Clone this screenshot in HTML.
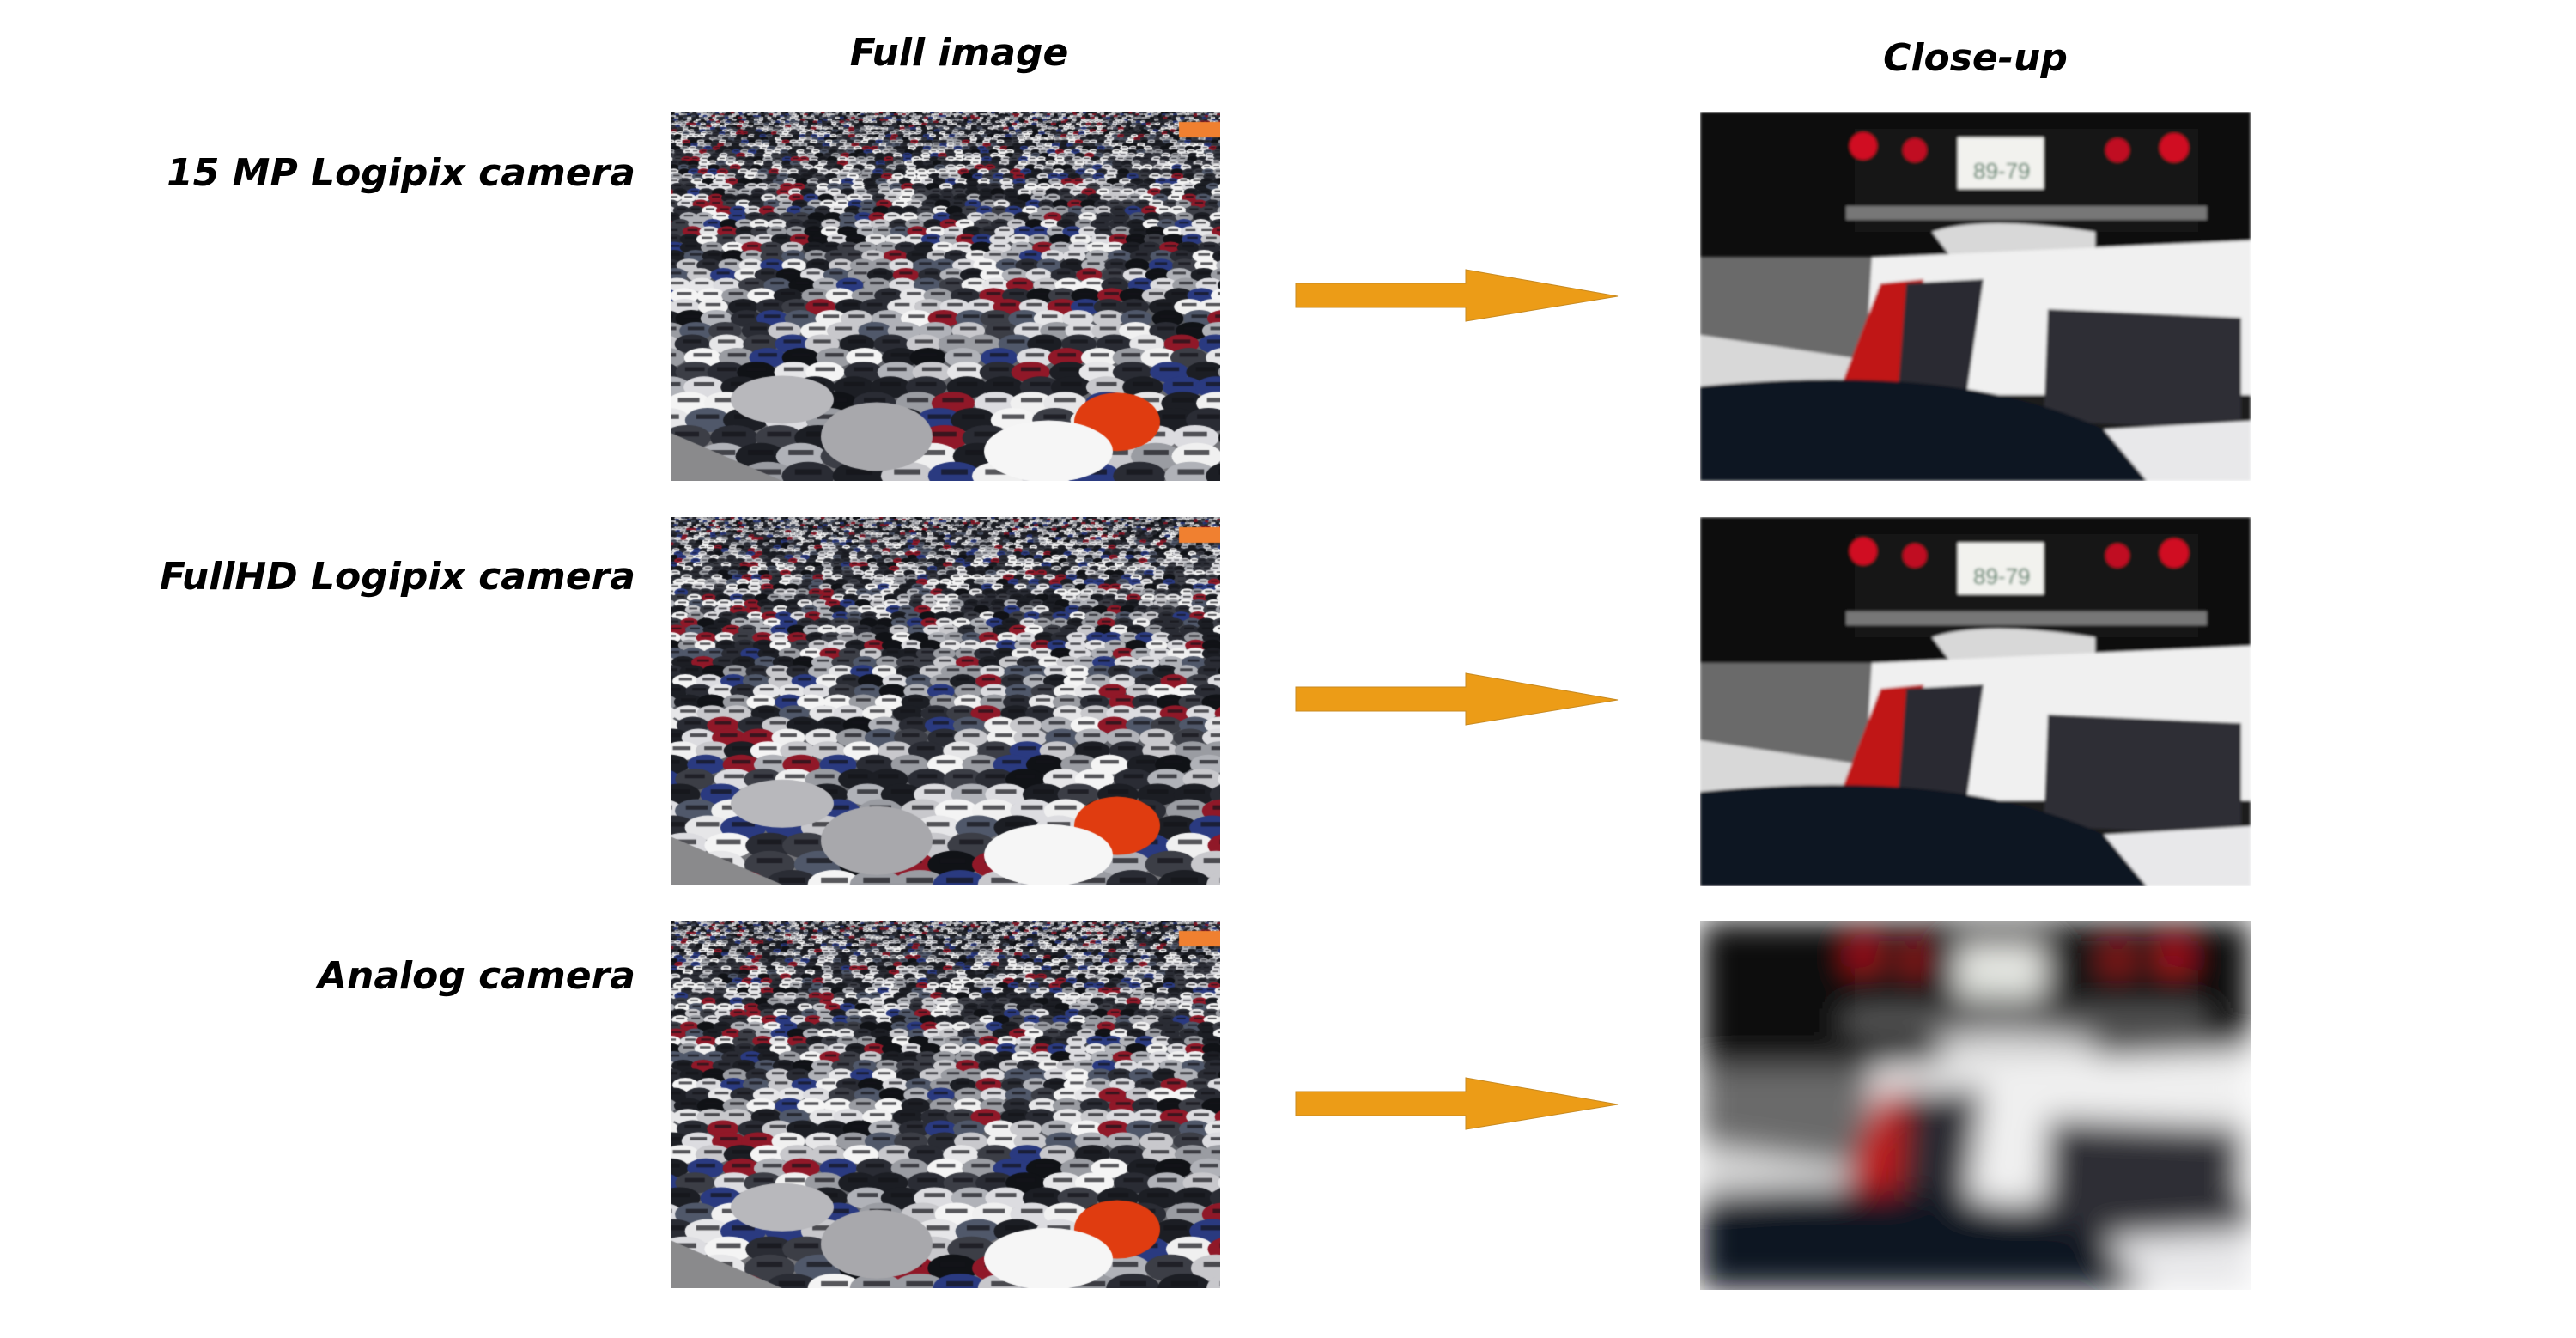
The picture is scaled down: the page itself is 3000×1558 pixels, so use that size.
<!DOCTYPE html>
<html><head><meta charset="utf-8"><style>
html,body{margin:0;padding:0;background:#fff;}
body{width:3000px;height:1558px;position:relative;overflow:hidden;font-family:"DejaVu Sans","Liberation Sans",sans-serif;}
.t{position:absolute;font-weight:bold;font-style:italic;font-size:44px;color:#000;white-space:nowrap;}
.lab{right:2260px;text-align:right;}
canvas,svg.c{position:absolute;}
</style></head><body>
<div class="t" style="left:0;width:2234px;text-align:center;top:36px;">Full image</div>
<div class="t" style="left:1980px;width:641px;text-align:center;top:42px;">Close-up</div>
<div class="t lab" style="top:176px;">15 MP Logipix camera</div>
<div class="t lab" style="top:646px;">FullHD Logipix camera</div>
<div class="t lab" style="top:1111px;">Analog camera</div>

<canvas id="f1" width="640" height="430" style="left:781px;top:130px"></canvas>
<canvas id="f2" width="640" height="428" style="left:781px;top:602px"></canvas>
<canvas id="f3" width="640" height="428" style="left:781px;top:1072px"></canvas>

<svg class="c" style="left:0;top:0" width="3000" height="1558">
<defs>
<filter id="b1"><feGaussianBlur stdDeviation="1.5"/></filter>
<filter id="b2"><feGaussianBlur stdDeviation="18"/></filter>
<clipPath id="cp"><rect x="0" y="0" width="641" height="430"/></clipPath>
<g id="cu">
<rect x="0" y="0" width="641" height="430" fill="#1a1a1c"/>
<rect x="0" y="0" width="641" height="170" fill="#0d0d10"/>
<rect x="180" y="20" width="400" height="120" fill="#141418"/>
<rect x="300" y="30" width="100" height="60" fill="#f2f2ee"/>
<text x="318" y="78" font-family="Liberation Sans" font-size="26" fill="#2a6a4a">89-79</text>
<circle cx="190" cy="40" r="16" fill="#d01020"/><circle cx="250" cy="45" r="14" fill="#c01020"/>
<circle cx="486" cy="45" r="14" fill="#c01020"/><circle cx="552" cy="42" r="17" fill="#d01020"/>
<rect x="170" y="110" width="420" height="16" fill="#777"/>
<polygon points="0,170 210,170 230,330 0,330" fill="#6a6a6a"/>
<polygon points="0,260 200,290 200,330 0,330" fill="#d8d8d8"/>
<path d="M270,140 Q330,120 460,140 L460,175 L300,180 Z" fill="#d8d8d8"/>
<polygon points="200,170 641,150 641,330 190,330" fill="#f0f0f0"/>
<polygon points="210,200 260,195 250,330 160,330" fill="#c01818"/>
<polygon points="240,200 330,195 310,330 230,330" fill="#2a2a30"/>
<polygon points="405,230 630,240 630,370 400,360" fill="#2e2e34"/>
<path d="M0,320 Q300,290 470,370 L641,430 L0,430 Z" fill="#0f1220"/>
<polygon points="470,370 641,360 641,430 520,430" fill="#e8e8ea"/>
</g>
</defs>
<g transform="translate(1980,130)" clip-path="url(#cp)" filter="url(#b1)"><use href="#cu"/></g>
<g transform="translate(1980,602)" clip-path="url(#cp)" filter="url(#b1)"><use href="#cu"/></g>
<g transform="translate(1980,1072)" clip-path="url(#cp)"><g filter="url(#b2)"><use href="#cu"/></g></g>
<g fill="#ec9c17" stroke="#c88a20" stroke-width="1">
<polygon points="1509,330 1707,330 1707,314 1884,345 1707,374 1707,358 1509,358"/>
<polygon points="1509,800 1707,800 1707,784 1884,815 1707,844 1707,828 1509,828"/>
<polygon points="1509,1271 1707,1271 1707,1255 1884,1286 1707,1315 1707,1299 1509,1299"/>
</g>
</svg>
<script>
function draw(id,seed){
 var c=document.getElementById(id),x=c.getContext('2d'),W=c.width,H=c.height;
 var s=seed;function r(){s=(s*16807)%2147483647;return s/2147483647;}
 var g=x.createLinearGradient(0,0,0,H);g.addColorStop(0,'#2a2c33');g.addColorStop(0.5,'#55585f');g.addColorStop(1,'#7a7a7e');
 x.fillStyle=g;x.fillRect(0,0,W,H);
 var pal=['#f0f0f0','#e6e6e8','#c8c8cc','#9a9ca2','#1c1e24','#2a2c34','#3c3e46','#101216','#dcdce0','#50586a','#f4f4f4','#b0b2b8','#2a2c34','#1c1e24','#2a3a80','#901828'];
 var y=0;
 while(y<H){var sz=4+y/H*50;var xx=-r()*sz;
  while(xx<W){var col=pal[Math.floor(r()*pal.length)];x.fillStyle=col;
   x.beginPath();x.ellipse(xx+sz*0.6,y+sz*0.35,sz*0.6,sz*0.32,0,0,7);x.fill();
   x.fillStyle='rgba(20,20,25,0.7)';x.fillRect(xx+sz*0.3,y+sz*0.2,sz*0.6,sz*0.12);
   xx+=sz*(0.9+r()*0.3);}
  y+=sz*0.45;}
 x.fillStyle='#8a8a8c';x.beginPath();x.moveTo(0,H*0.87);x.lineTo(130,H);x.lineTo(0,H);x.fill();
 x.fillStyle='#b8b8bc';x.beginPath();x.ellipse(130,H*0.78,60,28,0,0,7);x.fill();
 x.fillStyle='#a8a8ac';x.beginPath();x.ellipse(240,H*0.88,65,40,0,0,7);x.fill();
 x.fillStyle='#e03c10';x.beginPath();x.ellipse(520,H*0.84,50,34,0,0,7);x.fill();
 x.fillStyle='#f6f6f6';x.beginPath();x.ellipse(440,H*0.92,75,36,0,0,7);x.fill();
 x.fillStyle='#f08030';x.fillRect(592,12,48,18);
}
draw('f1',12345);draw('f2',12345);draw('f3',12345);
</script>
</body></html>
